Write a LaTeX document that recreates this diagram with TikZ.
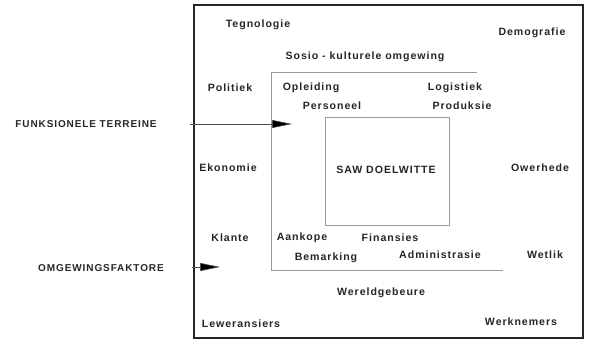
\documentclass[tikz,border=0pt]{standalone}
\usepackage{fontspec}
\setmainfont{Liberation Sans}[LetterSpace=9]
\usetikzlibrary{arrows.meta}
\begin{document}
\begin{tikzpicture}[x=1pt,y=-1pt,
  lbl/.style={font=\fontsize{10.6}{12}\selectfont\bfseries, inner sep=0pt, text=black!85},
  side/.style={font=\fontsize{10}{12}\selectfont\bfseries, inner sep=0pt, text=black!85},
  thinbox/.style={draw=black!40, line width=0.6pt},
  pointer/.style={draw=black!70, line width=0.6pt, -{Triangle[length=20pt,width=8pt,fill=black]}}]
\useasboundingbox (0,0) rectangle (589,341);
% outer box
\draw[line width=1.8pt, black!85] (194,5) rectangle (583,338);
% middle (functional) area
\draw[thinbox] (477,72) -- (271,72) -- (271,270) -- (503,270);
% inner box
\draw[thinbox] (325,117) rectangle (449,225);
% labels
\node[lbl] (tegn) at (258,25) {Tegnologie};
\node[lbl] (demo) at (532,33) {Demografie};
\node[lbl] (sosio) at (365,57) {Sosio - kulturele omgewing};
\node[lbl] (pol) at (230,88) {Politiek};
\node[lbl] (opl) at (311,88) {Opleiding};
\node[lbl] (log) at (455,88) {Logistiek};
\node[lbl] (pers) at (332,106) {Personeel};
\node[lbl] (prod) at (462,106) {Produksie};
\node[lbl] (ekon) at (228,168) {Ekonomie};
\node[lbl] (saw) at (386,170) {SAW DOELWITTE};
\node[lbl] (ower) at (540,168) {Owerhede};
\node[lbl] (klan) at (230,238) {Klante};
\node[lbl] (aank) at (302,238) {Aankope};
\node[lbl] (fin) at (390,238) {Finansies};
\node[lbl] (bem) at (326,258) {Bemarking};
\node[lbl] (adm) at (440,255) {Administrasie};
\node[lbl] (wet) at (545,255) {Wetlik};
\node[lbl] (wereld) at (381,293) {Wereldgebeure};
\node[lbl] (lew) at (241,324) {Leweransiers};
\node[lbl] (werk) at (521,322) {Werknemers};
\node[side] (funk) at (86,124) {FUNKSIONELE TERREINE};
\node[side] (omg) at (101,268) {OMGEWINGSFAKTORE};
% arrows
\coordinate (f0) at (190,124);
\coordinate (f1) at (292,124);
\coordinate (o0) at (192,267);
\coordinate (o1) at (220,267);
\draw[pointer] (f0) -- (f1);
\draw[pointer] (o0) -- (o1);
\end{tikzpicture}
\end{document}
